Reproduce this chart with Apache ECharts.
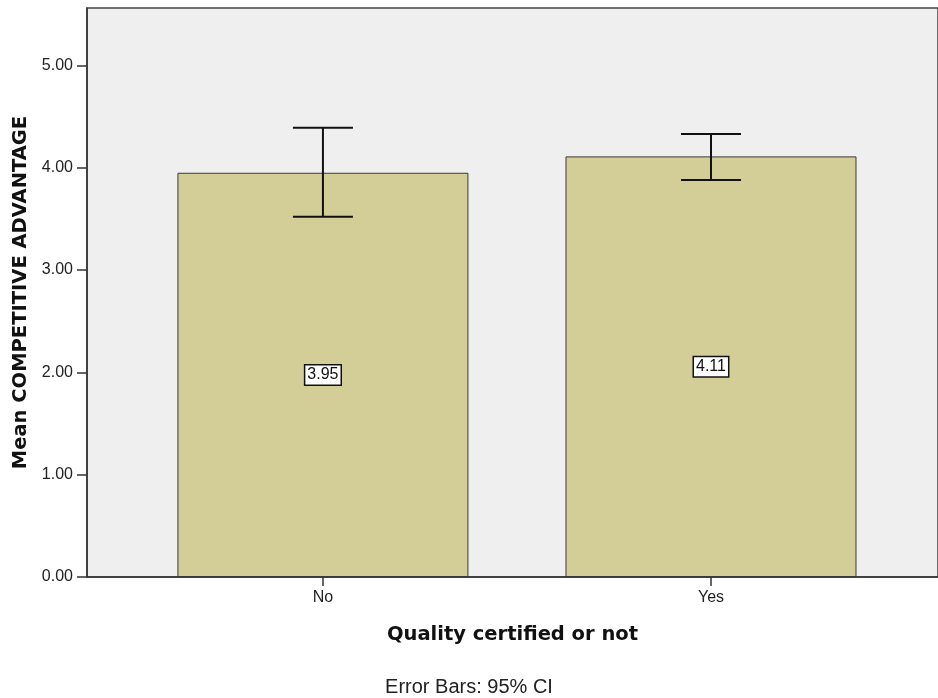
<!DOCTYPE html>
<html>
<head>
<meta charset="utf-8">
<script src="https://cdn.jsdelivr.net/npm/echarts@6/dist/echarts.min.js"></script>
<style>html,body{margin:0;padding:0;background:#fff;}#c{width:938px;height:698px;}</style>
</head>
<body>
<div id="c"></div>
<script>
var categories = ['No', 'Yes'];
var means = [3.95, 4.11];
var ciLow = [3.52, 3.88];
var ciHigh = [4.39, 4.33];
var yTicks = [0, 1, 2, 3, 4, 5];

var chart = echarts.init(document.getElementById('c'));
var font = '"Liberation Sans", Arial, sans-serif';
var boldFont = '"DejaVu Sans", Verdana, sans-serif';
var positions = categories.map(function (c, i) { return i; });

chart.setOption({
  animation: false,
  backgroundColor: '#ffffff',
  title: {
    text: 'Error Bars: 95% CI',
    left: 'center',
    bottom: -4,
    textStyle: { fontFamily: font, fontSize: 20, fontWeight: 'normal', color: '#222' }
  },
  grid: {
    left: 87, top: 8, right: -3, bottom: 121,
    show: true, backgroundColor: '#efefef', borderColor: '#444', borderWidth: 1.5
  },
  xAxis: {
    type: 'value',
    min: -0.608, max: 1.585,
    splitLine: { show: false },
    axisLine: { show: true, onZero: false, lineStyle: { color: '#333', width: 1.5 } },
    axisTick: { show: true, customValues: positions, length: 9, lineStyle: { color: '#333', width: 1.5 } },
    axisLabel: {
      customValues: positions,
      formatter: function (v) { return categories[Math.round(v)]; },
      fontFamily: font, fontSize: 16, color: '#222', margin: 13
    },
    name: 'Quality certified or not',
    nameLocation: 'middle',
    nameGap: 48,
    nameTextStyle: { fontFamily: boldFont, fontSize: 19.5, fontWeight: 'bold', color: '#111' }
  },
  yAxis: {
    type: 'value',
    min: 0, max: 5.56,
    splitLine: { show: false },
    axisLine: { show: true, onZero: false, lineStyle: { color: '#333', width: 1.5 } },
    axisTick: { show: true, customValues: yTicks, length: 10, lineStyle: { color: '#333', width: 1.5 } },
    axisLabel: {
      customValues: yTicks,
      formatter: function (v) { return v.toFixed(2); },
      fontFamily: font, fontSize: 16, color: '#222', margin: 14
    },
    name: 'Mean COMPETITIVE ADVANTAGE',
    nameLocation: 'middle',
    nameGap: 52,
    nameTextStyle: { fontFamily: boldFont, fontSize: 19.5, fontWeight: 'bold', color: '#111' }
  },
  series: [
    {
      type: 'bar',
      barWidth: 291,
      data: means.map(function (m, i) { return [positions[i], m]; }),
      itemStyle: { color: '#d3cd98', borderColor: '#3a3a3a', borderWidth: 1 },
      label: {
        show: true,
        position: 'inside',
        formatter: function (p) { return p.value[1].toFixed(2); },
        fontFamily: font, fontSize: 16, color: '#111',
        backgroundColor: '#ffffff', borderColor: '#111', borderWidth: 1.5,
        padding: [2, 2, 1, 2]
      },
      z: 2
    },
    {
      type: 'custom',
      data: positions.map(function (p, i) { return [p, ciLow[i], ciHigh[i]]; }),
      renderItem: function (params, api) {
        var x = api.value(0);
        var lo = api.coord([x, api.value(1)]);
        var hi = api.coord([x, api.value(2)]);
        var w = 30;
        var style = { stroke: '#111', lineWidth: 2 };
        return {
          type: 'group',
          children: [
            { type: 'line', shape: { x1: hi[0], y1: hi[1], x2: lo[0], y2: lo[1] }, style: style },
            { type: 'line', shape: { x1: hi[0] - w, y1: hi[1], x2: hi[0] + w, y2: hi[1] }, style: style },
            { type: 'line', shape: { x1: lo[0] - w, y1: lo[1], x2: lo[0] + w, y2: lo[1] }, style: style }
          ]
        };
      },
      z: 5
    }
  ]
});
</script>
</body>
</html>
